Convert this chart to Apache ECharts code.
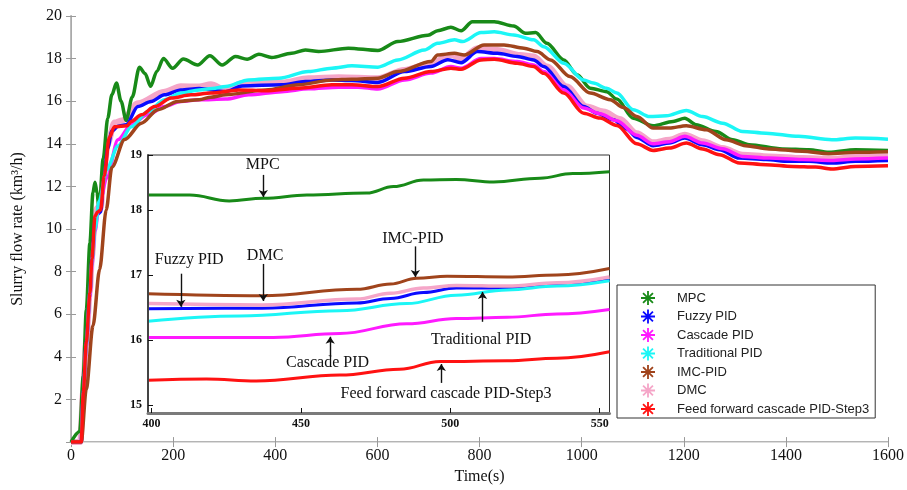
<!DOCTYPE html>
<html>
<head>
<meta charset="utf-8">
<script src="https://cdn.jsdelivr.net/npm/echarts@6.0.0/dist/echarts.min.js"></script>
<style>
  html, body { margin: 0; padding: 0; background: #fff; }
  #chart { width: 907px; height: 490px; }
</style>
</head>
<body>
<div id="chart"></div>
<script>
// series names (legend order)
const names = ['MPC', 'Fuzzy PID', 'Cascade PID', 'Traditional PID', 'IMC-PID', 'DMC', 'Feed forward cascade PID-Step3'];
const colors = ['#188a18', '#0a0aff', '#ff1aff', '#1cf6f6', '#a0441c', '#f5a6c8', '#ff1212'];

// main plot, [time (s), flow rate]
const mpcData = [[0,0],[17,0.5],[24,3.1],[30,6.2],[37,9.35],[43,11.7],[47,12.2],[51,11.7],[55,10.9],[63,13.3],[72,15.2],[80,16.3],[89,16.85],[98,16.0],[108,15.1],[120,16.2],[134,17.6],[145,17.3],[156,16.7],[168,17.4],[181,18.0],[199,17.55],[220,17.98],[248,17.7],[272,18.14],[296,17.7],[322,18.1],[345,17.97],[368,18.2],[393,18.05],[432,18.25],[459,18.4],[485,18.33],[543,18.49],[601,18.38],[640,18.8],[699,19.1],[718,19.31],[744,19.47],[764,19.31],[786,19.73],[829,19.73],[867,19.53],[890,19.19],[910,19.22],[932,18.72],[965,17.94],[991,17.24],[1017,16.61],[1049,16.45],[1069,16.1],[1101,15.2],[1140,14.85],[1179,15.05],[1202,15.2],[1224,14.9],[1263,14.58],[1296,14.19],[1328,13.96],[1393,13.76],[1445,13.72],[1484,13.6],[1536,13.72],[1600,13.69]];
const fuzzyData = [[0,0],[20,0],[24,2.3],[30,4.7],[37,7.0],[41,8.6],[47,10.4],[52,10.7],[58,10.8],[64,12.2],[72,13.8],[80,14.6],[92,14.82],[108,14.9],[131,15.75],[157,15.99],[183,16.3],[215,16.53],[251,16.6],[303,16.45],[335,16.72],[413,16.77],[459,16.92],[511,17.0],[550,16.97],[601,16.88],[653,17.39],[705,17.63],[738,17.95],[764,17.81],[796,18.33],[835,18.25],[874,18.1],[906,17.94],[926,17.63],[965,16.69],[1004,15.75],[1030,15.44],[1062,15.13],[1088,14.7],[1108,14.3],[1140,13.91],[1172,14.04],[1202,14.27],[1237,13.96],[1270,13.72],[1309,13.33],[1361,13.26],[1406,13.18],[1445,13.18],[1490,13.1],[1536,13.18],[1600,13.22]];
const cascadeData = [[0,0],[20,0],[24,2.2],[30,4.5],[37,6.8],[41,8.3],[47,9.9],[55,11.1],[70,12.4],[92,14.19],[118,14.9],[150,15.36],[183,15.75],[215,15.99],[251,16.07],[303,16.1],[348,16.3],[413,16.45],[465,16.58],[524,16.66],[562,16.66],[601,16.57],[653,17.0],[705,17.32],[744,17.63],[764,17.55],[803,18.0],[829,18.0],[874,17.86],[906,17.7],[926,17.39],[965,16.53],[1004,15.68],[1036,15.41],[1069,15.08],[1108,14.4],[1140,14.0],[1172,14.1],[1202,14.35],[1237,14.04],[1276,13.77],[1315,13.41],[1367,13.33],[1432,13.26],[1490,13.22],[1536,13.29],[1600,13.33]];
const tradData = [[0,0],[20,0],[24,2.3],[30,4.6],[37,7.0],[41,8.5],[47,10.0],[55,11.3],[70,12.8],[92,13.9],[118,14.8],[150,15.5],[183,16.07],[215,16.38],[251,16.53],[277,16.6],[303,16.69],[348,17.0],[407,17.08],[465,17.39],[511,17.55],[550,17.66],[601,17.6],[640,17.94],[692,18.4],[718,18.72],[751,18.88],[767,18.8],[803,19.22],[829,19.26],[867,19.11],[906,18.88],[926,18.56],[965,17.78],[1004,17.0],[1023,16.85],[1049,16.61],[1069,16.38],[1101,15.6],[1133,15.28],[1166,15.32],[1205,15.57],[1237,15.28],[1276,14.97],[1315,14.58],[1361,14.5],[1425,14.35],[1490,14.19],[1536,14.27],[1600,14.22]];
const imcData = [[0,0],[20,0],[30,2.5],[43,5.45],[56,8.1],[69,10.9],[80,12.9],[105,14.2],[138,14.97],[170,15.6],[209,15.99],[251,16.07],[274,16.19],[303,16.3],[381,16.53],[446,16.77],[511,17.0],[550,17.03],[601,17.08],[640,17.39],[705,17.86],[718,18.17],[751,18.25],[770,18.17],[809,18.64],[848,18.64],[887,18.49],[913,18.33],[939,17.94],[977,17.16],[1017,16.38],[1056,16.07],[1082,15.7],[1108,15.28],[1140,14.74],[1172,14.74],[1205,14.85],[1244,14.66],[1283,14.19],[1321,13.91],[1367,13.76],[1432,13.65],[1484,13.54],[1536,13.6],[1600,13.63]];
const dmcData = [[0,0],[18,0],[24,2.4],[30,4.8],[37,7.1],[41,8.7],[47,10.8],[52,11.0],[58,11.0],[64,12.5],[72,14.0],[85,15.0],[100,15.1],[131,15.9],[183,16.45],[215,16.7],[251,16.69],[274,16.8],[303,16.53],[335,16.85],[413,16.88],[465,17.08],[524,17.13],[601,17.08],[653,17.47],[705,17.78],[744,18.17],[764,18.0],[796,18.49],[835,18.4],[880,18.17],[906,18.1],[932,17.63],[971,16.69],[1010,15.75],[1043,15.52],[1075,15.17],[1108,14.5],[1140,14.07],[1172,14.19],[1202,14.43],[1237,14.12],[1276,13.8],[1315,13.49],[1367,13.41],[1432,13.33],[1490,13.29],[1536,13.38],[1600,13.41]];
const ffData = [[0,0],[20,0],[24,2.3],[30,4.7],[37,7.0],[41,8.6],[47,10.6],[52,10.8],[58,10.9],[65,12.5],[75,14.3],[85,14.8],[110,14.85],[118,15.05],[138,15.36],[164,15.75],[196,16.15],[235,16.3],[274,16.38],[329,16.53],[381,16.49],[446,16.61],[511,16.77],[550,16.77],[601,16.69],[653,17.08],[705,17.39],[744,17.55],[764,17.5],[803,17.94],[829,17.97],[874,17.78],[906,17.63],[926,17.31],[965,16.38],[1004,15.44],[1036,15.21],[1069,14.86],[1108,14.0],[1140,13.69],[1172,13.8],[1205,14.04],[1237,13.76],[1270,13.49],[1309,13.1],[1361,13.02],[1413,12.94],[1458,12.91],[1490,12.82],[1536,12.94],[1600,12.97]];

// zoomed inset, 400-550 s
const mpcZoom = [[398.8,18.23],[412.8,18.23],[426,18.14],[437.4,18.18],[452,18.23],[472,18.26],[481,18.36],[491,18.46],[502,18.47],[514.5,18.43],[530,18.49],[541,18.56],[553.3,18.59]];
const fuzzyZoom = [[398.8,16.48],[437,16.49],[468.7,16.57],[480,16.64],[491,16.73],[502,16.8],[519,16.8],[535.7,16.85],[553.3,16.93]];
const cascadeZoom = [[398.8,16.04],[440.8,16.04],[463,16.1],[485.4,16.25],[502,16.33],[519,16.35],[535.7,16.4],[553.3,16.47]];
const tradZoom = [[398.8,16.29],[429.6,16.37],[463,16.45],[485.4,16.56],[502,16.69],[519,16.77],[535.7,16.83],[553.3,16.91]];
const imcZoom = [[398.8,16.71],[437,16.68],[468.7,16.78],[480,16.86],[488.8,16.95],[498.9,16.98],[519,16.97],[535.7,17.0],[553.3,17.1]];
const dmcZoom = [[398.8,16.56],[437,16.54],[468.7,16.63],[480,16.72],[491,16.8],[502,16.84],[519,16.83],[535.7,16.88],[553.3,16.97]];
const ffZoom = [[398.8,15.38],[418.4,15.4],[435,15.37],[463,15.46],[483,15.55],[496.6,15.67],[519,15.68],[535.7,15.72],[553.3,15.82]];

// axis ticks
const mainXTicks = [0, 1600, 200];
const mainYTicks = [0, 20, 2];
const zoomXTicks = [400, 450, 500, 550];
const zoomYTicks = [15, 16, 17, 18, 18.846];

// inset annotations: label, [x, y] of text, arrow x, arrow from y, arrow to y
const notes = [
  ['MPC', [437.2, 18.69], 437.4, 18.54, 18.20],
  ['DMC', [438.0, 17.30], 437.4, 17.17, 16.60],
  ['Fuzzy PID', [412.6, 17.24], 409.8, 17.02, 16.51],
  ['IMC-PID', [487.5, 17.55], 488.3, 17.44, 16.97],
  ['Traditional PID', [510.3, 16.0], 510.8, 16.28, 16.74],
  ['Cascade PID', [458.9, 15.65], 459.8, 15.74, 16.05],
  ['Feed forward cascade PID-Step3', [498.6, 15.18], 497.0, 15.34, 15.63]
];

const mainSets = [mpcData, fuzzyData, cascadeData, tradData, imcData, dmcData, ffData];
const zoomSets = [mpcZoom, fuzzyZoom, cascadeZoom, tradZoom, imcZoom, dmcZoom, ffZoom];

// asterisk legend icon made of 4 thin bars
function asteriskPath() {
  let p = '';
  [0, 45, 90, 135].forEach(function (a) {
    const r = a * Math.PI / 180, c = Math.cos(r), s = Math.sin(r);
    const L = 10, t = 1.3;
    const pts = [[-L, -t], [L, -t], [L, t], [-L, t]].map(function (q) {
      return [(q[0] * c - q[1] * s).toFixed(2), (q[0] * s + q[1] * c).toFixed(2)];
    });
    p += 'M' + pts[0].join(' ') + 'L' + pts[1].join(' ') + 'L' + pts[2].join(' ') + 'L' + pts[3].join(' ') + 'Z';
  });
  return 'path://' + p;
}

const serif = "'Liberation Serif', 'Times New Roman', serif";

let myChart = echarts.init(document.getElementById('chart'));

let series = [];
names.forEach(function (n, i) {
  series.push({
    name: n,
    type: 'line',
    xAxisIndex: 0,
    yAxisIndex: 0,
    data: mainSets[i],
    showSymbol: false,
    smooth: 0.3,
    smoothMonotone: 'x',
    z: n === 'DMC' ? 1 : 2,
    lineStyle: { color: colors[i], width: n === 'DMC' ? 6 : 3.5 },
    itemStyle: { color: colors[i] }
  });
});
names.forEach(function (n, i) {
  let s = {
    name: n,
    type: 'line',
    xAxisIndex: 2,
    yAxisIndex: 2,
    data: zoomSets[i],
    showSymbol: false,
    smooth: 0.4,
    smoothMonotone: 'x',
    z: 11,
    lineStyle: { color: colors[i], width: n === 'DMC' ? 3.5 : 3 },
    itemStyle: { color: colors[i] }
  };
  if (i === 0) {
    s.markLine = {
      silent: true,
      z: 15,
      symbol: ['none', 'arrow'],
      symbolSize: 7,
      label: { show: false },
      lineStyle: { color: '#111', width: 1.4, type: 'solid' },
      data: notes.map(function (a) {
        return [{ coord: [a[2], a[3]] }, { coord: [a[2], a[4]] }];
      })
    };
    s.markPoint = {
      silent: true,
      z: 15,
      symbol: 'rect',
      symbolSize: 1,
      itemStyle: { color: 'rgba(0,0,0,0)' },
      label: {
        show: true,
        position: 'inside',
        formatter: '{b}',
        color: '#111',
        fontFamily: serif,
        fontSize: 16
      },
      data: notes.map(function (a) {
        return { name: a[0], coord: a[1] };
      })
    };
  }
  series.push(s);
});

let option = {
  animation: false,
  backgroundColor: '#fff',
  legend: {
    orient: 'vertical',
    left: 617,
    top: 285,
    padding: [6, 6, 2, 24],
    itemGap: 4.5,
    itemWidth: 14,
    itemHeight: 14,
    icon: asteriskPath(),
    backgroundColor: '#fff',
    borderColor: '#333',
    borderWidth: 1,
    z: 20,
    data: names,
    textStyle: {
      fontFamily: "'Liberation Sans', Arial, sans-serif",
      fontSize: 13,
      color: '#222',
      padding: [0, 0, 0, 17]
    }
  },
  grid: [
    { left: 71, right: 14, top: 16, bottom: 47 },
    {
      left: 148, right: 297.5, top: 155, bottom: 77,
      show: true, backgroundColor: '#fff', borderColor: '#333', borderWidth: 1, z: 10
    }
  ],
  xAxis: [
    {
      type: 'value', gridIndex: 0,
      min: mainXTicks[0], max: mainXTicks[1], interval: mainXTicks[2],
      name: 'Time(s)', nameLocation: 'middle', nameGap: 20,
      nameTextStyle: { fontFamily: serif, fontSize: 16, color: '#111' },
      axisLine: { lineStyle: { color: '#b4b4b4', width: 2 } },
      axisTick: { inside: true, length: 5, lineStyle: { color: '#999' } },
      axisLabel: {
        fontFamily: serif, fontSize: 16, color: '#111', margin: 6,
        formatter: function (v) { return String(v); }
      },
      splitLine: { show: false }
    },
    {
      type: 'value', gridIndex: 0, position: 'top',
      min: mainXTicks[0], max: mainXTicks[1], interval: mainXTicks[2],
      axisLine: { show: true, lineStyle: { color: '#ddd', width: 1 } },
      axisTick: { inside: true, length: 5, lineStyle: { color: '#999' } },
      axisLabel: { show: false },
      splitLine: { show: false }
    },
    {
      type: 'value', gridIndex: 1,
      min: 398.8, max: 553.3, z: 12,
      axisLine: { lineStyle: { color: '#7a7a7a', width: 3 } },
      axisTick: { inside: true, length: 5, customValues: zoomXTicks, lineStyle: { color: '#111' } },
      axisLabel: {
        customValues: zoomXTicks,
        fontFamily: serif, fontSize: 12, fontWeight: 'bold', color: '#111', margin: 5,
        formatter: function (v) { return String(v); }
      },
      splitLine: { show: false }
    }
  ],
  yAxis: [
    {
      type: 'value', gridIndex: 0,
      min: mainYTicks[0], max: mainYTicks[1], interval: mainYTicks[2],
      name: 'Slurry flow rate (km³/h)', nameLocation: 'middle', nameGap: 45,
      nameTextStyle: { fontFamily: serif, fontSize: 16, color: '#111' },
      axisLine: { show: true, lineStyle: { color: '#bbb', width: 2 } },
      axisTick: { show: true, inside: true, length: 5, lineStyle: { color: '#999' } },
      axisLabel: {
        fontFamily: serif, fontSize: 16, color: '#111', margin: 9,
        formatter: function (v) { return v === 0 ? '' : String(v); }
      },
      splitLine: { show: false }
    },
    {
      type: 'value', gridIndex: 0, position: 'right',
      min: mainYTicks[0], max: mainYTicks[1], interval: mainYTicks[2],
      axisLine: { show: true, lineStyle: { color: '#aaa', width: 1 } },
      axisTick: { show: true, inside: true, length: 5, lineStyle: { color: '#999' } },
      axisLabel: { show: false },
      splitLine: { show: false }
    },
    {
      type: 'value', gridIndex: 1,
      min: 14.877, max: 18.846, z: 12,
      axisLine: { show: true, lineStyle: { color: '#444', width: 2 } },
      axisTick: { show: true, inside: true, length: 5, customValues: zoomYTicks, lineStyle: { color: '#111' } },
      axisLabel: {
        customValues: zoomYTicks,
        fontFamily: serif, fontSize: 12, fontWeight: 'bold', color: '#111', margin: 6,
        formatter: function (v) { return String(Math.round(v)); }
      },
      splitLine: { show: false }
    }
  ],
  series: series
};

myChart.setOption(option);
window.addEventListener('resize', function () { myChart.resize(); });
</script>
</body>
</html>
